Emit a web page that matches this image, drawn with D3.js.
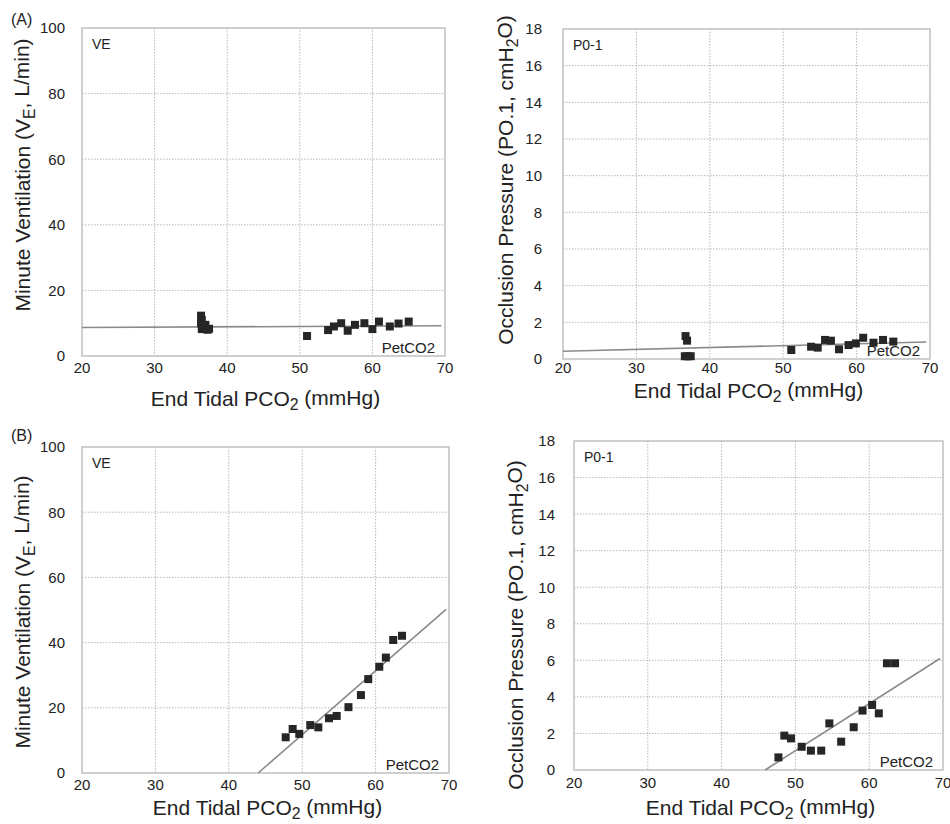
<!DOCTYPE html>
<html>
<head>
<meta charset="utf-8">
<script src="https://cdn.jsdelivr.net/npm/d3@7"></script>
<style>
body { margin: 0; background: #fff; }
text { font-family: "Liberation Sans", Arial, Helvetica, sans-serif; fill: #222; }
</style>
</head>
<body>
<div id="my_chart"></div>
<script>
//// data
const pet_ticks = [20, 30, 40, 50, 60, 70];
const ve_ticks = [0, 20, 40, 60, 80, 100];
const p01_ticks = [0, 2, 4, 6, 8, 10, 12, 14, 16, 18];

// (A) minute ventilation
const a_ve_pet = [36.4, 36.5, 36.4, 36.6, 36.5, 36.9, 37.0, 37.3, 37.5,
  51.0, 53.9, 54.7, 55.7, 56.6, 57.6, 58.9, 60.0, 60.9, 62.4, 63.6, 65.0];
const a_ve_val = [12.3, 11.0, 10.0, 9.0, 8.2, 8.6, 9.5, 8.0, 8.3,
  6.1, 7.9, 9.0, 10.0, 7.7, 9.5, 10.0, 8.2, 10.5, 9.0, 9.9, 10.5];
const a_ve_fit = [[20, 8.7], [69.5, 9.2]];

// (A) occlusion pressure
const a_p01_pet = [36.7, 36.9, 36.6, 37.0, 37.4,
  51.1, 53.8, 54.7, 55.7, 56.5, 57.6, 58.9, 59.9, 60.9, 62.3, 63.6, 65.0];
const a_p01_val = [1.25, 1.0, 0.15, 0.15, 0.15,
  0.49, 0.67, 0.62, 1.04, 1.0, 0.53, 0.76, 0.85, 1.16, 0.89, 1.04, 0.95];
const a_p01_fit = [[20, 0.42], [69.5, 0.93]];

// (B) minute ventilation
const b_ve_pet = [47.75, 48.7, 49.6, 51.1, 52.2, 53.65, 54.7, 56.3, 58.0, 59.0, 60.5, 61.4, 62.4, 63.6];
const b_ve_val = [10.95, 13.5, 12.0, 14.7, 14.0, 16.8, 17.5, 20.2, 23.9, 28.8, 32.6, 35.4, 40.8, 42.1];
const b_ve_fit = [[44.0, 0], [69.6, 50.2]];

// (B) occlusion pressure
const b_p01_pet = [47.7, 48.5, 49.4, 50.85, 52.1, 53.5, 54.6, 56.2, 57.9, 59.1, 60.4, 61.3, 62.4, 63.5];
const b_p01_val = [0.69, 1.88, 1.73, 1.27, 1.06, 1.06, 2.55, 1.55, 2.34, 3.25, 3.56, 3.1, 5.84, 5.84];
const b_p01_fit = [[45.9, 0], [69.6, 6.1]];

// titles, with subscripts marked as [text, isSub]
const x_title = [["End Tidal PCO", false], ["2", true], [" (mmHg)", false]];
const ve_title = [["Minute Ventilation (V", false], ["E", true], [", L/min)", false]];
const p01_title = [["Occlusion Pressure (PO.1, cmH", false], ["2", true], ["O)", false]];

//// layout of the four panels
const panels = [
  {label: "(A)", lx: 11, ly: 25, l: 82, r: 445, t: 28, b: 356, ymax: 100, yticks: ve_ticks,
   pet: a_ve_pet, val: a_ve_val, fit: a_ve_fit, tag: "VE", ytitle: ve_title,
   ytx: 23, yty: 175, ygap: 17, xpad: 17, xty: 406},
  {label: "", l: 563, r: 930, t: 29, b: 359, ymax: 18, yticks: p01_ticks,
   pet: a_p01_pet, val: a_p01_val, fit: a_p01_fit, tag: "P0-1", ytitle: p01_title,
   ytx: 506, yty: 180, ygap: 21, xpad: 14, xty: 398},
  {label: "(B)", lx: 11, ly: 441, l: 82, r: 449, t: 447, b: 773, ymax: 100, yticks: ve_ticks,
   pet: b_ve_pet, val: b_ve_val, fit: b_ve_fit, tag: "VE", ytitle: ve_title,
   ytx: 23, yty: 612, ygap: 17, xpad: 17, xty: 815},
  {label: "", l: 574, r: 943, t: 441, b: 770, ymax: 18, yticks: p01_ticks,
   pet: b_p01_pet, val: b_p01_val, fit: b_p01_fit, tag: "P0-1", ytitle: p01_title,
   ytx: 516, yty: 625, ygap: 19, xpad: 18, xty: 815}
];

const svg = d3.select("#my_chart")
  .append("svg")
  .attr("width", 950)
  .attr("height", 824);

// writes text parts into a text element, dropping subscripts
function addParts(txt, parts) {
  parts.forEach(function(p, i) {
    const ts = txt.append("tspan").text(p[0]);
    if (p[1]) {
      ts.attr("dy", "0.28em").style("font-size", "75%");
    } else if (i > 0 && parts[i - 1][1]) {
      ts.attr("dy", "-0.28em");
    }
  });
}

panels.forEach(function(p) {
  const x = d3.scaleLinear().domain([20, 70]).range([p.l, p.r]);
  const y = d3.scaleLinear().domain([0, p.ymax]).range([p.b, p.t]);
  const g = svg.append("g");

  // dotted grid
  g.append("g")
    .selectAll("line")
    .data(pet_ticks.slice(1, -1))
    .enter()
    .append("line")
      .attr("x1", d => x(d)).attr("x2", d => x(d))
      .attr("y1", p.t).attr("y2", p.b)
      .attr("stroke", "#b8b8b8")
      .attr("stroke-width", 1)
      .attr("stroke-dasharray", "1.5,1.5");
  g.append("g")
    .selectAll("line")
    .data(p.yticks.slice(1, -1))
    .enter()
    .append("line")
      .attr("x1", p.l).attr("x2", p.r)
      .attr("y1", d => y(d)).attr("y2", d => y(d))
      .attr("stroke", "#b8b8b8")
      .attr("stroke-width", 1)
      .attr("stroke-dasharray", "1.5,1.5");

  // frame
  g.append("rect")
    .attr("x", p.l).attr("y", p.t)
    .attr("width", p.r - p.l).attr("height", p.b - p.t)
    .attr("fill", "none")
    .attr("stroke", "#c4c4c4")
    .attr("stroke-width", 1.6);

  // tick labels
  g.append("g")
    .selectAll("text")
    .data(pet_ticks)
    .enter()
    .append("text")
      .attr("x", d => x(d))
      .attr("y", p.b + p.xpad)
      .attr("text-anchor", "middle")
      .style("font-size", "15px")
      .text(d => d);
  g.append("g")
    .selectAll("text")
    .data(p.yticks)
    .enter()
    .append("text")
      .attr("x", p.l - p.ygap)
      .attr("y", d => y(d))
      .attr("dy", "0.36em")
      .attr("text-anchor", "end")
      .style("font-size", "15px")
      .text(d => d);

  // regression line
  g.append("path")
    .datum(p.fit)
    .attr("d", d3.line().x(d => x(d[0])).y(d => y(d[1])))
    .attr("fill", "none")
    .attr("stroke", "#8a8a8a")
    .attr("stroke-width", 1.6);

  // square markers
  g.append("g")
    .selectAll("rect")
    .data(p.pet.map((v, i) => [v, p.val[i]]))
    .enter()
    .append("rect")
      .attr("x", d => x(d[0]) - 4)
      .attr("y", d => y(d[1]) - 4)
      .attr("width", 8)
      .attr("height", 8)
      .attr("fill", "#262626");

  // in-plot labels
  g.append("text")
    .attr("x", p.l + 10).attr("y", p.t + 21)
    .style("font-size", "14px")
    .text(p.tag);
  g.append("text")
    .attr("x", p.r - 10).attr("y", p.b - 3)
    .attr("text-anchor", "end")
    .style("font-size", "15px")
    .text("PetCO2");

  // axis titles
  const xt = g.append("text")
    .attr("x", (p.l + p.r) / 2 + 2)
    .attr("y", p.xty)
    .attr("text-anchor", "middle")
    .style("font-size", "21px");
  addParts(xt, x_title);

  const yt = g.append("text")
    .attr("transform", `translate(${p.ytx}, ${p.yty}) rotate(-90)`)
    .attr("dy", "0.35em")
    .attr("text-anchor", "middle")
    .style("font-size", "21px");
  addParts(yt, p.ytitle);

  if (p.label) {
    g.append("text")
      .attr("x", p.lx).attr("y", p.ly)
      .style("font-size", "16px")
      .text(p.label);
  }
});
</script>
</body>
</html>
